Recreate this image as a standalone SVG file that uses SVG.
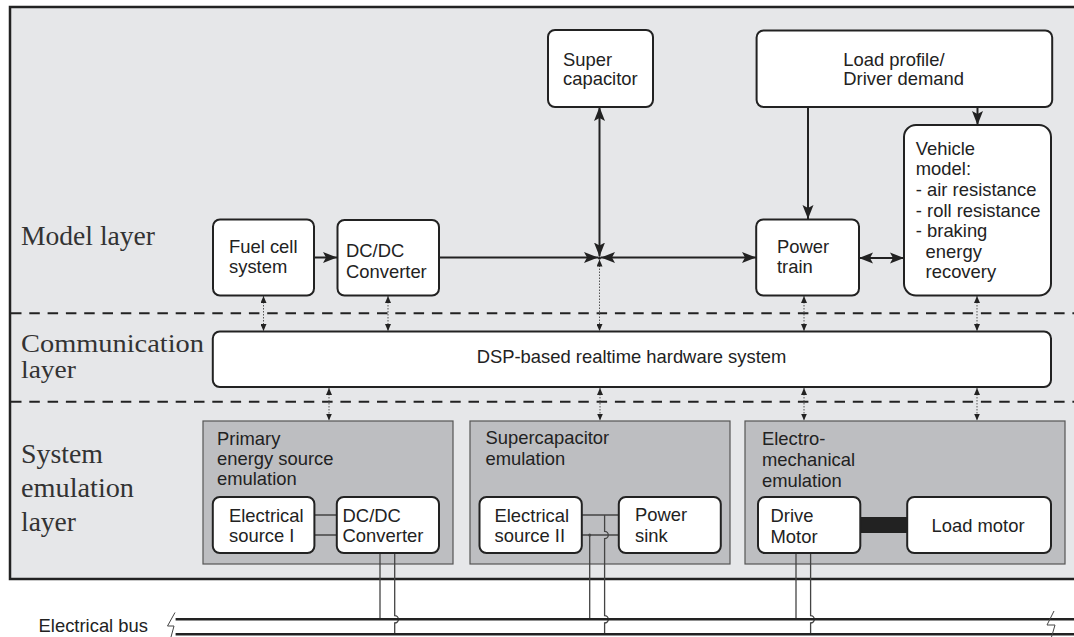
<svg xmlns="http://www.w3.org/2000/svg" width="1074" height="637" viewBox="0 0 1074 637">
  <defs>
    <style>
      .frame{fill:#e6e7e9;stroke:#222;stroke-width:2.5}
      .sep{fill:none;stroke:#222;stroke-width:2;stroke-dasharray:10.5 7.8}
      .box{fill:#fff;stroke:#222;stroke-width:2}
      .emu{fill:#bdbec1;stroke:#555;stroke-width:1.2}
      .t{font-family:"Liberation Sans",Arial,Helvetica,sans-serif;font-size:18.4px;fill:#222}
      .lay{font-family:"Liberation Serif","Times New Roman",serif;font-size:27px;fill:#333}
      .lay2{font-family:"Liberation Serif","Times New Roman",serif;font-size:25px;fill:#333}
      .flow{fill:none;stroke:#222;stroke-width:2}
      .sig{fill:none;stroke:#555;stroke-width:1;stroke-dasharray:1.5 1.5}
      .wire{fill:none;stroke:#444;stroke-width:1.3}
      .bus{fill:none;stroke:#222;stroke-width:2.5}
      .zig{fill:none;stroke:#444;stroke-width:1}
    </style>
    <marker id="ah" markerUnits="userSpaceOnUse" markerWidth="15" markerHeight="12" refX="14" refY="6" orient="auto-start-reverse" viewBox="0 0 15 12">
      <path d="M0,0.5 L14,6 L0,11.5 L3,6 z" fill="#222"/>
    </marker>
    <marker id="sh" markerUnits="userSpaceOnUse" markerWidth="7" markerHeight="6" refX="7" refY="3" orient="auto-start-reverse" viewBox="0 0 7 6">
      <path d="M0,0 L7,3 L0,6 z" fill="#222"/>
    </marker>
  </defs>

  <!-- outer frame and layer separators -->
  <rect class="frame" x="10" y="7" width="1080" height="572"/>
  <line class="sep" x1="11" y1="313.3" x2="1074" y2="313.3"/>
  <line class="sep" x1="11" y1="401.7" x2="1074" y2="401.7"/>

  <!-- layer labels -->
  <g id="labels">
    <text class="lay" x="21" y="245" textLength="134" lengthAdjust="spacingAndGlyphs">Model layer</text>
    <text class="lay2" x="21" y="352" textLength="183" lengthAdjust="spacingAndGlyphs">Communication</text>
    <text class="lay2" x="21" y="378" textLength="55" lengthAdjust="spacingAndGlyphs">layer</text>
    <text class="lay" x="21" y="463" textLength="82" lengthAdjust="spacingAndGlyphs">System</text>
    <text class="lay" x="21" y="497" textLength="113" lengthAdjust="spacingAndGlyphs">emulation</text>
    <text class="lay" x="21" y="531" textLength="55" lengthAdjust="spacingAndGlyphs">layer</text>
  </g>

  <!-- emulation group boxes -->
  <g id="primary-emulation">
    <rect class="emu" x="203" y="421" width="250" height="143"/>
    <text class="t" x="217" y="445">Primary</text>
    <text class="t" x="217" y="465">energy source</text>
    <text class="t" x="217" y="485">emulation</text>
  </g>
  <g id="supercap-emulation">
    <rect class="emu" x="470" y="421" width="260" height="143"/>
    <text class="t" x="485.5" y="444">Supercapacitor</text>
    <text class="t" x="485.5" y="465">emulation</text>
  </g>
  <g id="electromech-emulation">
    <rect class="emu" x="745" y="421" width="320" height="143"/>
    <text class="t" x="762" y="445">Electro-</text>
    <text class="t" x="762" y="466">mechanical</text>
    <text class="t" x="762" y="487">emulation</text>
  </g>

  <!-- connectors -->
  <g id="connectors">
    <!-- power flow in the model layer -->
    <path class="flow" d="M314,257.5 H337" marker-end="url(#ah)"/>
    <path class="flow" d="M439,257.5 H598" marker-end="url(#ah)"/>
    <path class="flow" d="M599.5,107 V256.5" marker-start="url(#ah)" marker-end="url(#ah)"/>
    <path class="flow" d="M601,257.5 H756" marker-start="url(#ah)" marker-end="url(#ah)"/>
    <path class="flow" d="M808,107 V219" marker-end="url(#ah)"/>
    <path class="flow" d="M977.5,107 V125" marker-end="url(#ah)"/>
    <path class="flow" d="M859,258 H904" marker-start="url(#ah)" marker-end="url(#ah)"/>
    <circle cx="599.5" cy="258" r="1.6" fill="#222"/>

    <!-- signal links model <-> DSP -->
    <path class="sig" d="M263.5,296 V331" marker-start="url(#sh)" marker-end="url(#sh)"/>
    <path class="sig" d="M388,296 V331" marker-start="url(#sh)" marker-end="url(#sh)"/>
    <path class="sig" d="M599.5,259.5 V331" marker-start="url(#sh)" marker-end="url(#sh)"/>
    <path class="sig" d="M804,296 V331" marker-start="url(#sh)" marker-end="url(#sh)"/>
    <path class="sig" d="M977,296 V331" marker-start="url(#sh)" marker-end="url(#sh)"/>

    <!-- signal links DSP <-> emulation -->
    <path class="sig" d="M329,388 V420.5" marker-start="url(#sh)" marker-end="url(#sh)"/>
    <path class="sig" d="M600,388 V420.5" marker-start="url(#sh)" marker-end="url(#sh)"/>
    <path class="sig" d="M804,388 V420.5" marker-start="url(#sh)" marker-end="url(#sh)"/>
    <path class="sig" d="M977,388 V420.5" marker-start="url(#sh)" marker-end="url(#sh)"/>

    <!-- inner wiring of the emulators -->
    <path class="wire" d="M314,515 H337 M314,535 H337"/>
    <path class="wire" d="M582,515 H619 M582,535 H619"/>
    <circle cx="589.7" cy="535" r="1.5" fill="#444"/>
    <rect x="860" y="517" width="47" height="16" fill="#222"/>

    <!-- links to the electrical bus -->
    <path class="wire" d="M380,553 V619.3"/>
    <path class="wire" d="M394.7,553 V615.6 a3.7,3.7 0 0 1 0,7.4 V634"/>
    <path class="wire" d="M589.7,535 V619.3"/>
    <path class="wire" d="M604.6,515 V531.3 a3.7,3.7 0 0 1 0,7.4 V615.6 a3.7,3.7 0 0 1 0,7.4 V634"/>
    <path class="wire" d="M796,553 V619.3"/>
    <path class="wire" d="M810.6,553 V615.6 a3.7,3.7 0 0 1 0,7.4 V634"/>
  </g>

  <!-- model layer nodes -->
  <g id="fuel-cell">
    <rect class="box" x="213" y="219.5" width="101" height="76" rx="7"/>
    <text class="t" x="229" y="252.7">Fuel cell</text>
    <text class="t" x="229" y="272.7">system</text>
  </g>
  <g id="dcdc-model">
    <rect class="box" x="337.5" y="220" width="101.5" height="75.5" rx="7"/>
    <text class="t" x="346" y="257.3">DC/DC</text>
    <text class="t" x="346" y="277.7">Converter</text>
  </g>
  <g id="super-capacitor">
    <rect class="box" x="548" y="30" width="105" height="77" rx="7"/>
    <text class="t" x="563" y="65.7">Super</text>
    <text class="t" x="563" y="85">capacitor</text>
  </g>
  <g id="load-profile">
    <rect class="box" x="756.6" y="30.5" width="295.6" height="76.5" rx="7"/>
    <text class="t" x="843.3" y="65.7">Load profile/</text>
    <text class="t" x="843.3" y="85">Driver demand</text>
  </g>
  <g id="power-train">
    <rect class="box" x="756.2" y="219.5" width="102.8" height="76" rx="7"/>
    <text class="t" x="777" y="253.3">Power</text>
    <text class="t" x="777" y="273.3">train</text>
  </g>
  <g id="vehicle-model">
    <rect class="box" x="904" y="125" width="147" height="170.5" rx="12"/>
    <text class="t" x="915.8" y="155">Vehicle</text>
    <text class="t" x="915.8" y="175">model:</text>
    <text class="t" x="915.8" y="195.5">- air resistance</text>
    <text class="t" x="915.8" y="216.5">- roll resistance</text>
    <text class="t" x="915.8" y="237">- braking</text>
    <text class="t" x="925.6" y="258">energy</text>
    <text class="t" x="925.6" y="278">recovery</text>
  </g>

  <!-- communication layer -->
  <g id="dsp">
    <rect class="box" x="212.8" y="331.5" width="838.2" height="55.5" rx="7"/>
    <text class="t" x="631.5" y="363.3" text-anchor="middle">DSP-based realtime hardware system</text>
  </g>

  <!-- emulator components -->
  <g id="electrical-source-1">
    <rect class="box" x="212.8" y="497" width="101.6" height="56" rx="7"/>
    <text class="t" x="229" y="522.3">Electrical</text>
    <text class="t" x="229" y="541.7">source I</text>
  </g>
  <g id="dcdc-emulator">
    <rect class="box" x="336.8" y="497" width="102.2" height="56" rx="7"/>
    <text class="t" x="342.6" y="521.5">DC/DC</text>
    <text class="t" x="342.6" y="541.7">Converter</text>
  </g>
  <g id="electrical-source-2">
    <rect class="box" x="479.5" y="497" width="102.3" height="56" rx="7"/>
    <text class="t" x="494.5" y="522.3">Electrical</text>
    <text class="t" x="494.5" y="541.7">source II</text>
  </g>
  <g id="power-sink">
    <rect class="box" x="618.8" y="497" width="102" height="56" rx="7"/>
    <text class="t" x="635" y="521">Power</text>
    <text class="t" x="635" y="541.7">sink</text>
  </g>
  <g id="drive-motor">
    <rect class="box" x="758" y="497" width="102.3" height="56" rx="7"/>
    <text class="t" x="770.5" y="521.7">Drive</text>
    <text class="t" x="770.5" y="543">Motor</text>
  </g>
  <g id="load-motor">
    <rect class="box" x="907.2" y="497" width="143.8" height="56" rx="7"/>
    <text class="t" x="931.5" y="531.7">Load motor</text>
  </g>

  <!-- electrical bus -->
  <g id="electrical-bus">
    <text class="t" x="38.6" y="631.5">Electrical bus</text>
    <path class="bus" d="M175.6,619.3 H1074 M175.6,634.3 H1074"/>
    <path class="zig" d="M175,612.5 L167.5,626 L174,626 L171,637"/>
    <path class="zig" d="M1054,611 L1047,625 L1055,625 L1051.5,637"/>
  </g>
</svg>
